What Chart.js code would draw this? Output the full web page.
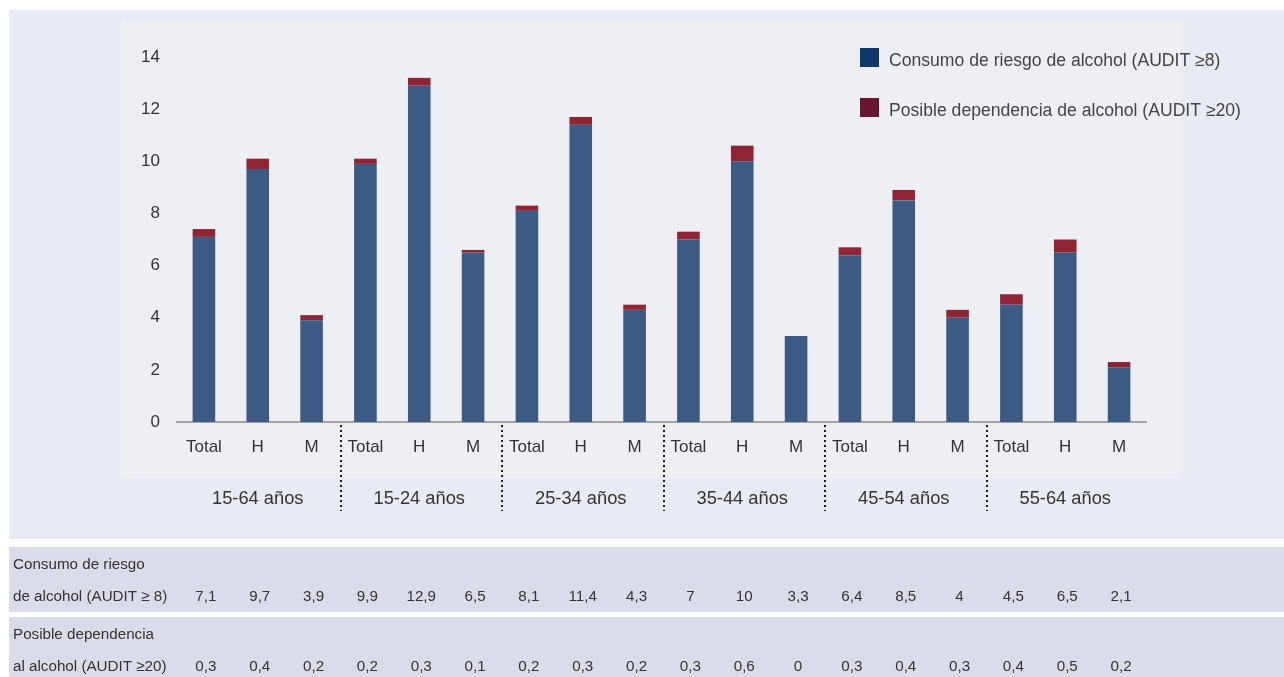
<!DOCTYPE html>
<html>
<head>
<meta charset="utf-8">
<script src="https://cdn.jsdelivr.net/npm/chart.js@4.4.1/dist/chart.umd.min.js"></script>
<style>
  html, body { margin: 0; padding: 0; background: #ffffff; }
  #wrap { width: 1284px; height: 677px; position: relative; }
</style>
</head>
<body>
<div id="wrap"><canvas id="c" width="1284" height="677"></canvas></div>
<script>
// ---- Data ----
const categories = ['Total','H','M','Total','H','M','Total','H','M','Total','H','M','Total','H','M','Total','H','M'];
const groups = ['15-64 años','15-24 años','25-34 años','35-44 años','45-54 años','55-64 años'];
const riesgo = [7.1, 9.7, 3.9, 9.9, 12.9, 6.5, 8.1, 11.4, 4.3, 7, 10, 3.3, 6.4, 8.5, 4, 4.5, 6.5, 2.1];
const dependencia = [0.3, 0.4, 0.2, 0.2, 0.3, 0.1, 0.2, 0.3, 0.2, 0.3, 0.6, 0, 0.3, 0.4, 0.3, 0.4, 0.5, 0.2];
const seriesLabels = ['Consumo de riesgo de alcohol (AUDIT ≥8)', 'Posible dependencia de alcohol (AUDIT ≥20)'];
const tableRowLabels = [['Consumo de riesgo', 'de alcohol (AUDIT ≥ 8)'], ['Posible dependencia', 'al alcohol (AUDIT ≥20)']];
const yMin = 0, yMax = 14, yStep = 2;

const FONT = "'Liberation Sans', Arial, Helvetica, sans-serif";
const TEXT = '#333333';

const fmt = v => String(v).replace('.', ',');

const decor = {
  id: 'decor',
  beforeDraw(chart) {
    const ctx = chart.ctx;
    ctx.save();
    ctx.fillStyle = '#ffffff';
    ctx.fillRect(0, 0, chart.width, chart.height);
    ctx.fillStyle = '#e9ebf4';
    ctx.fillRect(9, 10, 1275, 529);
    ctx.fillStyle = '#eeeff5';
    ctx.fillRect(121, 20, 1060, 458);
    ctx.fillStyle = '#dbdce9';
    ctx.fillRect(9, 547, 1275, 65);
    ctx.fillRect(9, 617, 1275, 60);
    ctx.restore();
  },
  afterDraw(chart) {
    const ctx = chart.ctx;
    const x = chart.scales.x;
    ctx.save();
    // dotted separators
    ctx.strokeStyle = '#1a1a1a';
    ctx.lineWidth = 2;
    ctx.setLineDash([2, 3]);
    for (let g = 1; g < groups.length; g++) {
      const px = Math.round((x.getPixelForValue(g * 3 - 1) + x.getPixelForValue(g * 3)) / 2) + 2;
      ctx.beginPath();
      ctx.moveTo(px, 425);
      ctx.lineTo(px, 511);
      ctx.stroke();
    }
    ctx.setLineDash([]);
    // group labels
    ctx.fillStyle = TEXT;
    ctx.font = '18.3px ' + FONT;
    ctx.textAlign = 'center';
    ctx.textBaseline = 'middle';
    groups.forEach((g, i) => {
      const cx = x.getPixelForValue(i * 3 + 1);
      ctx.fillText(g, cx, 499);
    });
    // legend
    ctx.textAlign = 'left';
    ctx.font = '17.6px ' + FONT;
    chart.data.datasets.forEach((ds, i) => {
      const y0 = 48 + i * 50;
      ctx.fillStyle = ds.legendColor;
      ctx.fillRect(860, y0, 19, 19);
      ctx.fillStyle = '#444444';
      ctx.fillText(ds.label, 889, y0 + 13);
    });
    // table
    ctx.fillStyle = TEXT;
    ctx.font = '15.2px ' + FONT;
    const rowsY = [[565, 597], [635, 667]];
    const rowVals = [riesgo, dependencia];
    tableRowLabels.forEach((lines, r) => {
      ctx.textAlign = 'left';
      ctx.fillText(lines[0], 13, rowsY[r][0]);
      ctx.fillText(lines[1], 13, rowsY[r][1]);
      ctx.textAlign = 'center';
      rowVals[r].forEach((v, i) => {
        ctx.fillText(fmt(v), x.getPixelForValue(i) + 2, rowsY[r][1]);
      });
    });
    ctx.restore();
  }
};

new Chart(document.getElementById('c'), {
  type: 'bar',
  data: {
    labels: categories,
    datasets: [
      { label: seriesLabels[0], data: riesgo, backgroundColor: '#3c5a83', legendColor: '#10376a', borderWidth: 0 },
      { label: seriesLabels[1], data: dependencia, backgroundColor: '#8e2434', legendColor: '#6a1632', borderWidth: 0 }
    ]
  },
  options: {
    responsive: false,
    animation: false,
    devicePixelRatio: 1,
    layout: { padding: { left: 0, right: 138, top: 57, bottom: 0 } },
    plugins: { legend: { display: false }, tooltip: { enabled: false } },
    datasets: { bar: { categoryPercentage: 1, barPercentage: 0.42 } },
    scales: {
      x: {
        stacked: true,
        grid: { display: false, drawTicks: false },
        border: { display: true, color: '#a3a3a3', width: 2 },
        ticks: { color: TEXT, font: { size: 17, family: FONT }, padding: 15, maxRotation: 0, autoSkip: false },
        afterFit(s) { s.height = 255; }
      },
      y: {
        stacked: true,
        min: yMin, max: yMax,
        grid: { display: false, drawTicks: false },
        border: { display: false },
        ticks: { stepSize: yStep, color: TEXT, font: { size: 17, family: FONT }, padding: 17 },
        afterFit(s) { s.width = 177; }
      }
    }
  },
  plugins: [decor]
});
</script>
</body>
</html>
